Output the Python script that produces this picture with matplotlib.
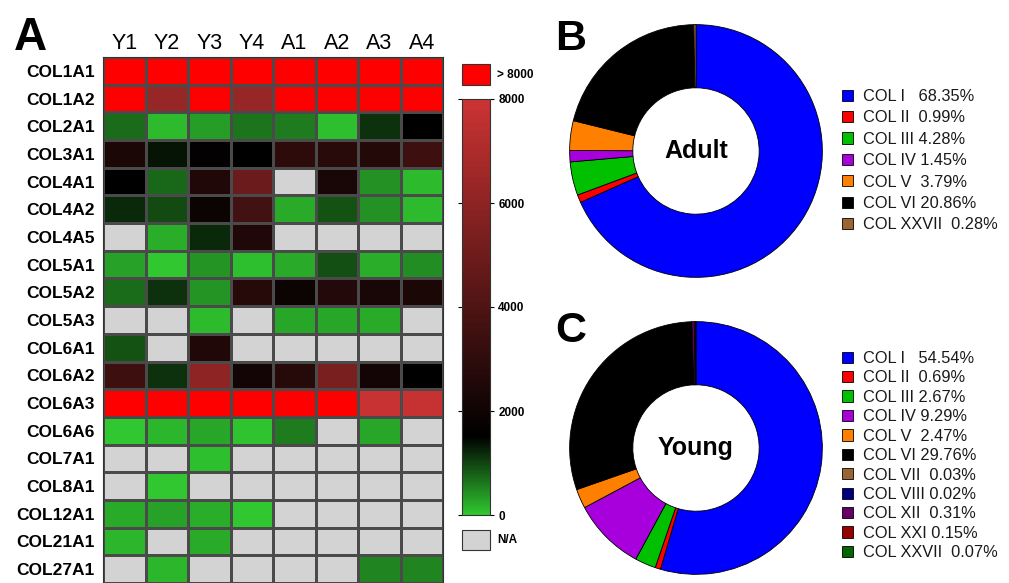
import numpy as np
import matplotlib
matplotlib.use('Agg')
import matplotlib.pyplot as plt
from matplotlib.colors import LinearSegmentedColormap, Normalize
from matplotlib.patches import Rectangle
from matplotlib.cm import ScalarMappable

plt.rcParams['font.family'] = ['Liberation Sans', 'DejaVu Sans']

W, H = 1009, 583

# heatmap data (nan = N/A, > 8000 drawn bright red)
samples = ['Y1', 'Y2', 'Y3', 'Y4', 'A1', 'A2', 'A3', 'A4']
genes = ['COL1A1', 'COL1A2', 'COL2A1', 'COL3A1', 'COL4A1', 'COL4A2', 'COL4A5',
         'COL5A1', 'COL5A2', 'COL5A3', 'COL6A1', 'COL6A2', 'COL6A3', 'COL6A6',
         'COL7A1', 'COL8A1', 'COL12A1', 'COL21A1', 'COL27A1']
na = np.nan
values = [
    [9000, 9000, 9000, 9000, 9000, 9000, 9000, 9000],
    [9000, 6300, 9000, 6300, 9000, 9000, 9000, 9000],
    [690, 100, 340, 650, 570, 70, 1150, 1500],
    [2400, 1350, 1600, 1500, 2950, 2800, 2650, 3450],
    [1500, 730, 2500, 4900, na, 2300, 420, 100],
    [1190, 960, 1900, 3600, 220, 880, 420, 100],
    [na, 190, 1190, 2500, na, na, na, na],
    [300, 0, 380, 70, 220, 920, 190, 460],
    [690, 1150, 380, 2700, 1900, 2600, 2300, 2400],
    [na, na, 100, na, 260, 260, 220, na],
    [880, na, 2500, na, na, na, na, na],
    [3450, 1150, 6050, 2100, 2700, 5400, 2100, 1500],
    [9000, 9000, 9000, 9000, 9000, 9000, 7900, 7800],
    [20, 150, 260, 50, 570, na, 260, na],
    [na, na, 70, na, na, na, na, na],
    [na, 0, na, na, na, na, na, na],
    [220, 300, 190, 30, na, na, na, na],
    [150, na, 220, na, na, na, na, na],
    [na, 150, na, na, na, na, 500, 500],
]

# donut data
adult_names = ['COL I  ', 'COL II ', 'COL III', 'COL IV', 'COL V ', 'COL VI', 'COL XXVII ']
adult_pct = [68.35, 0.99, 4.28, 1.45, 3.79, 20.86, 0.28]
adult_colors = ['#0000ff', '#ff0000', '#00c000', '#a800dc', '#ff8000', '#000000', '#996633']

young_names = ['COL I  ', 'COL II ', 'COL III', 'COL IV', 'COL V ', 'COL VI',
               'COL VII ', 'COL VIII', 'COL XII ', 'COL XXI', 'COL XXVII ']
young_pct = [54.54, 0.69, 2.67, 9.29, 2.47, 29.76, 0.03, 0.02, 0.31, 0.15, 0.07]
young_colors = ['#0000ff', '#ff0000', '#00c000', '#a800dc', '#ff8000', '#000000',
                '#996633', '#000080', '#660066', '#990000', '#006600']


def px(x, y, w, h):
    return [x / W, 1 - (y + h) / H, w / W, h / H]


cmap = LinearSegmentedColormap.from_list(
    'gkr', [(0.0, (0.19, 0.78, 0.19)), (0.1875, (0, 0, 0)), (1.0, (0.8, 0.2, 0.2))])
cmap.set_over('#ff0000')
cmap.set_bad('#d3d3d3')
norm = Normalize(0, 8000)

fig = plt.figure(figsize=(W / 100, H / 100), dpi=100)

# panel A heatmap
ax = fig.add_axes(px(103, 57, 340, 526))
data = np.ma.masked_invalid(np.array(values, dtype=float))
ax.pcolormesh(data, cmap=cmap, norm=norm, edgecolors='#4a4a4a', linewidth=0.8)
ax.set_xlim(0, len(samples))
ax.set_ylim(len(genes), 0)
ax.xaxis.tick_top()
ax.set_xticks(np.arange(len(samples)) + 0.5)
ax.set_xticklabels(samples, fontsize=15.5)
ax.set_yticks(np.arange(len(genes)) + 0.5)
ax.set_yticklabels(genes, fontsize=12.5, fontweight='bold')
ax.tick_params(length=0)
ax.tick_params(axis='x', pad=2)
ax.tick_params(axis='y', pad=6)
for s in ax.spines.values():
    s.set_color('#333333')
fig.text(14 / W, 1 - 50 / H, 'A', fontsize=33, fontweight='bold', va='baseline')

# colorbar and its key boxes
cax = fig.add_axes(px(462, 99, 28, 416))
cb = fig.colorbar(ScalarMappable(norm=norm, cmap=cmap), cax=cax, ticks=[0, 2000, 4000, 6000, 8000])
cb.outline.set_edgecolor('#333333')
cax.tick_params(length=3, width=0.8, left=True, right=True, labelsize=8.5, pad=3)
for t in cax.get_yticklabels():
    t.set_fontweight('bold')
fig.add_artist(Rectangle((462 / W, 1 - 85 / H), 28 / W, 21 / H, transform=fig.transFigure,
                         facecolor='#ff0000', edgecolor='#333333', lw=0.8))
fig.text(497 / W, 1 - 75 / H, '> 8000', fontsize=8.5, fontweight='bold', va='center')
fig.add_artist(Rectangle((462 / W, 1 - 550 / H), 28 / W, 20 / H, transform=fig.transFigure,
                         facecolor='#d3d3d3', edgecolor='#333333', lw=0.8))
fig.text(497 / W, 1 - 540 / H, 'N/A', fontsize=8.5, fontweight='bold', va='center')


def donut(center_y, pct, colors, names, title, letter, letter_y, legend_y, spacing):
    pax = fig.add_axes(px(696 - 127, center_y - 127, 254, 254))
    wedges, _ = pax.pie(pct, colors=colors, startangle=90, counterclock=False, radius=1,
                        wedgeprops=dict(width=0.5, edgecolor='black', linewidth=0.6))
    pax.set_xlim(-1.005, 1.005)
    pax.set_ylim(-1.005, 1.005)
    pax.text(0, 0, title, ha='center', va='center', fontsize=18, fontweight='bold')
    fig.text(555 / W, 1 - letter_y / H, letter, fontsize=31, fontweight='bold', va='baseline')
    labels = [f'{n} {p:.2f}%' for n, p in zip(names, pct)]
    fig.legend(wedges, labels, loc='upper left', bbox_to_anchor=(842 / W, 1 - legend_y / H),
               frameon=False, fontsize=11.8, handlelength=0.68, handleheight=0.68,
               handletextpad=0.6, labelspacing=spacing, borderpad=0, borderaxespad=0,
               labelcolor='#1a1a1a')


donut(151, adult_pct, adult_colors, adult_names, 'Adult', 'B', 50, 89, 0.39)
donut(448, young_pct, young_colors, young_names, 'Young', 'C', 342, 351, 0.27)

fig.savefig('out.png', dpi=100)
